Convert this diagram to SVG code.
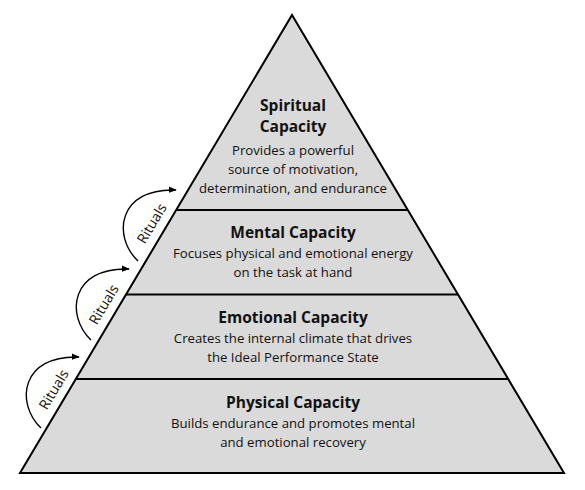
<svg xmlns="http://www.w3.org/2000/svg" width="585" height="490" viewBox="0 0 585 490">
<style>
.t{font-family:"Open Sans","Noto Sans",sans-serif;font-weight:700;font-size:15.5px;fill:#111;text-anchor:middle}
.b{font-family:"Open Sans","Noto Sans",sans-serif;font-size:13.2px;fill:#111;text-anchor:middle}
.r{font-family:"Open Sans","Noto Sans",sans-serif;font-size:14px;fill:#111;text-anchor:middle}
.div{stroke:#000;stroke-width:2;fill:none}
.arc{stroke:#000;stroke-width:1.4;fill:none;marker-end:url(#ah)}
</style>
<defs>
<marker id="ah" viewBox="0 0 10 10" refX="9" refY="5" markerWidth="8" markerHeight="8" markerUnits="userSpaceOnUse" orient="auto">
<path d="M0,1 L10,5 L0,9 Z" fill="#000"/>
</marker>
<path id="ritual" d="M138,261 C112,236 118,188 176,190"/>
</defs>
<rect width="585" height="490" fill="#fff"/>
<g id="pyramid">
<polygon points="292,15 564,473 20,473" fill="#dadada" stroke="#000" stroke-width="2" stroke-linejoin="miter"/>
<line class="div" x1="176.2" y1="210" x2="407.8" y2="210"/>
<line class="div" x1="126" y1="294.5" x2="458" y2="294.5"/>
<line class="div" x1="75.8" y1="379" x2="508.2" y2="379"/>
</g>
<g id="spiritual">
<text class="t" x="293" y="111">Spiritual</text>
<text class="t" x="293" y="132">Capacity</text>
<text class="b" x="293" y="155">Provides a powerful</text>
<text class="b" x="293" y="174">source of motivation,</text>
<text class="b" x="293" y="193">determination, and endurance</text>
</g>
<g id="mental">
<text class="t" x="293" y="238">Mental Capacity</text>
<text class="b" x="293" y="258">Focuses physical and emotional energy</text>
<text class="b" x="293" y="277">on the task at hand</text>
</g>
<g id="emotional">
<text class="t" x="293" y="323">Emotional Capacity</text>
<text class="b" x="293" y="343">Creates the internal climate that drives</text>
<text class="b" x="293" y="362">the Ideal Performance State</text>
</g>
<g id="physical">
<text class="t" x="293" y="408">Physical Capacity</text>
<text class="b" x="293" y="428">Builds endurance and promotes mental</text>
<text class="b" x="293" y="447">and emotional recovery</text>
</g>
<g id="connectors">
<use href="#ritual" class="arc"/>
<use href="#ritual" class="arc" transform="translate(-47,79)"/>
<use href="#ritual" class="arc" transform="translate(-97,167)"/>
</g>
<g id="ritual-labels">
<text class="r" transform="translate(156,226) rotate(-59)">Rituals</text>
<text class="r" transform="translate(108,307) rotate(-59)">Rituals</text>
<text class="r" transform="translate(58,392) rotate(-59)">Rituals</text>
</g>
</svg>
